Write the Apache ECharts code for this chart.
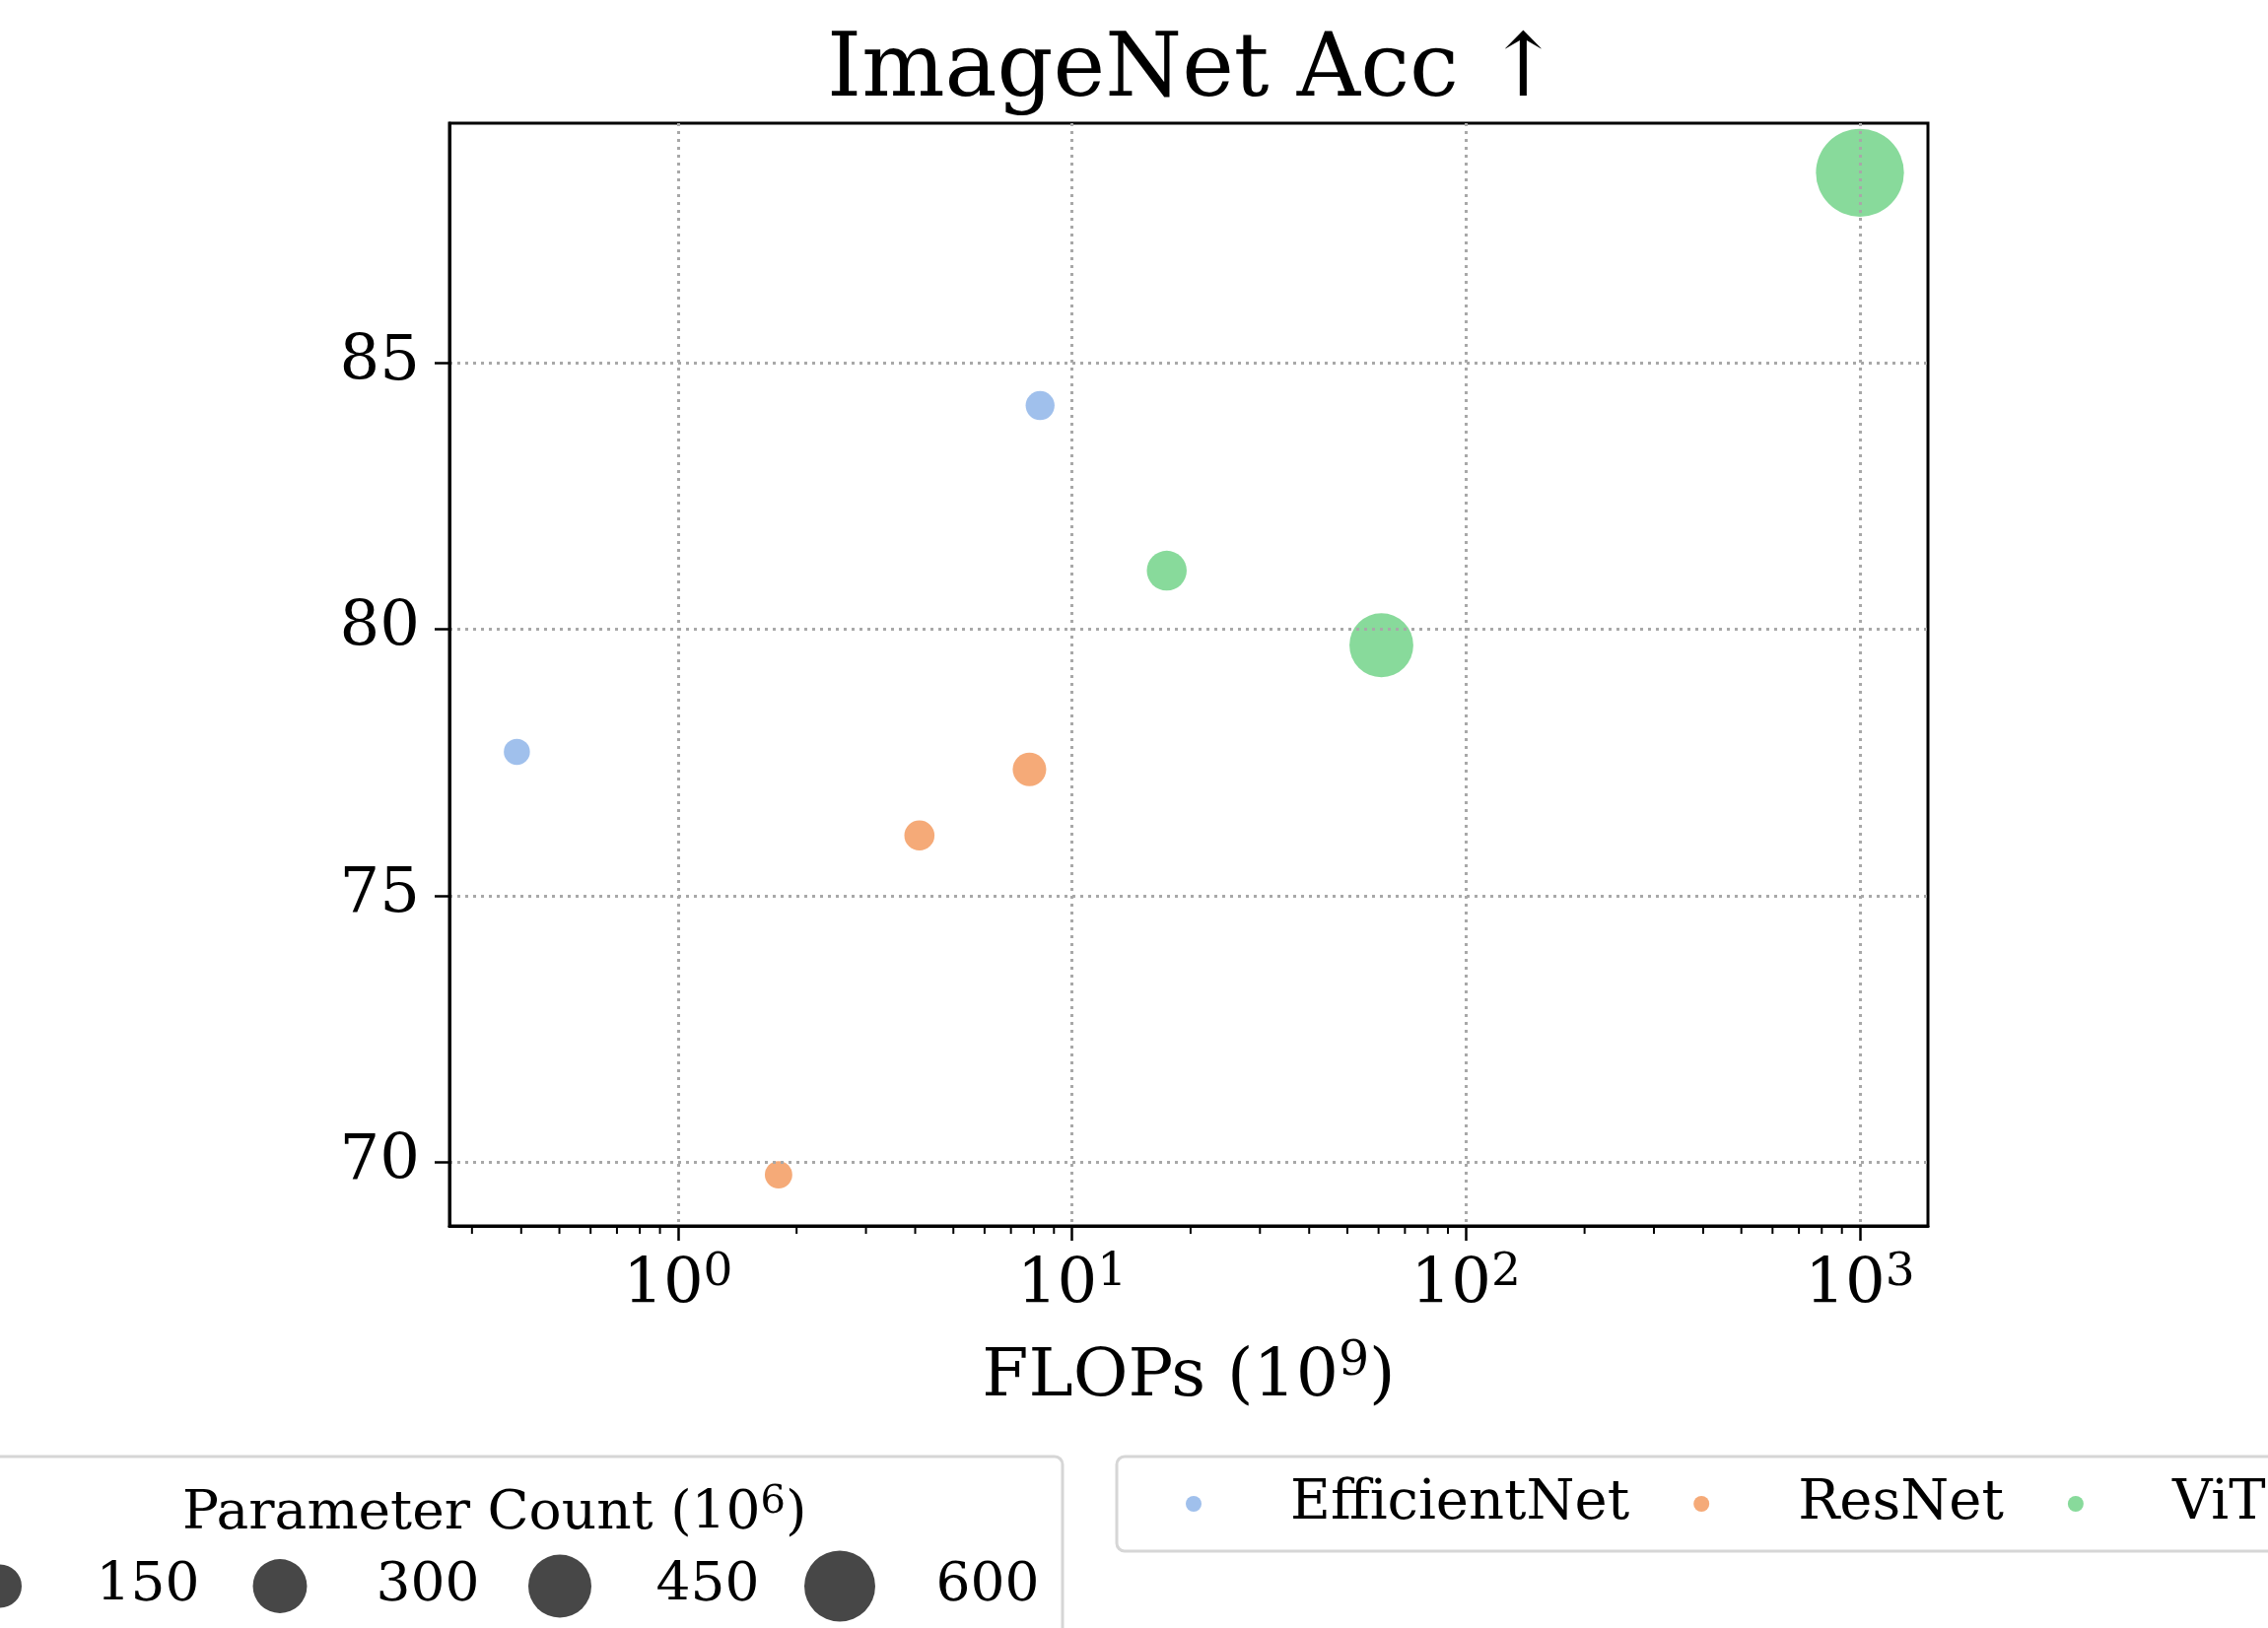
<!DOCTYPE html>
<html><head><meta charset="utf-8">
<script src="https://cdn.jsdelivr.net/npm/echarts@6/dist/echarts.min.js"></script>
<style>html,body{margin:0;padding:0;background:#fff}#c{width:2301px;height:1652px}</style>
</head><body><div id="c"></div>
<script>
// ---- data ----
const seriesNames = ['EfficientNet', 'ResNet', 'ViT'];
const efficientNetFlops = [0.39, 8.3];
const efficientNetAcc = [77.7, 84.2];
const efficientNetParams = [5.3, 19];
const resNetFlops = [1.8, 4.1, 7.8];
const resNetAcc = [69.76, 76.13, 77.37];
const resNetParams = [11.7, 25.6, 44.5];
const vitFlops = [17.4, 61.0, 1000];
const vitAcc = [81.1, 79.7, 88.57];
const vitParams = [86, 307, 632];
const xMajorTicks = [1, 10, 100, 1000];
const xMinorTicks = [0.3, 0.4, 0.5, 0.6, 0.7, 0.8, 0.9, 2, 3, 4, 5, 6, 7, 8, 9, 20, 30, 40, 50, 60, 70, 80, 90, 200, 300, 400, 500, 600, 700, 800, 900];
const yTicks = [70, 75, 80, 85];
const sizeLegendValues = [150, 300, 450, 600];
const X_MIN = 0.263, X_MAX = 1488, Y_MIN = 68.8, Y_MAX = 89.5;

// ---- styling ----
const FONT = 'DejaVu Serif';
const colors = ['#a0c0ec', '#f5aa78', '#88da9b'];
const plotDiameter = p => Math.sqrt(640 + 11.6 * p);
const legendDiameter = p => Math.sqrt(856 + 7.2 * p);

function pts(xs, ys, ps) { return xs.map((x, i) => [x, ys[i], ps[i]]); }

const chart = echarts.init(document.getElementById('c'), null, {renderer: 'canvas'});
const gridLine = {color: '#a8a8a8', width: 3, type: [3, 5]};
const supRich = {
  b: {fontFamily: FONT, fontSize: 64, fontWeight: 'normal', color: '#000', lineHeight: 64, padding: [10, 0, 0, 0]},
  s: {fontFamily: FONT, fontSize: 47, fontWeight: 'normal', color: '#000', lineHeight: 47, verticalAlign: 'top'}
};

const option = {
  animation: false,
  backgroundColor: '#fff',
  title: [
    {text: 'ImageNet Acc ↑', left: 834, top: 24,
     textStyle: {fontFamily: FONT, fontSize: 89, fontWeight: 'normal', color: '#000'}},
    {text: '{a|Parameter Count (10}{s|6}{a|)}', left: 180, top: 1500,
     textStyle: {fontWeight: 'normal', rich: {
       a: {fontFamily: FONT, fontSize: 55, fontWeight: 'normal', color: '#000', lineHeight: 55, padding: [8, 0, 0, 0]},
       s: {fontFamily: FONT, fontSize: 40, fontWeight: 'normal', color: '#000', lineHeight: 40, verticalAlign: 'top'}
     }}}
  ],
  graphic: [{
    type: 'rect', z: 0,
    shape: {x: -20, y: 1478, width: 1098, height: 260, r: 8},
    style: {fill: '#fff', stroke: '#d6d6d6', lineWidth: 3}
  }],
  legend: {
    data: seriesNames, left: 1133, top: 1478, width: 1500,
    orient: 'horizontal', icon: 'circle', itemWidth: 16, itemHeight: 16, itemGap: 65,
    padding: [20, 40, 20, 70], borderColor: '#d6d6d6', borderWidth: 3, borderRadius: 8,
    backgroundColor: '#fff', selectedMode: false,
    textStyle: {fontFamily: FONT, fontSize: 56, color: '#000', padding: [0, 0, 0, 85]}
  },
  grid: [
    {left: 456, right: 345, top: 125, bottom: 408, show: true, borderColor: '#000', borderWidth: 3, containLabel: false},
    {left: -9, width: 861, top: 1567, height: 100, show: false}
  ],
  xAxis: [{
    type: 'log', logBase: 10, min: X_MIN, max: X_MAX, gridIndex: 0, z: 3,
    axisLine: {show: true, onZero: false, lineStyle: {color: '#000', width: 3}},
    axisTick: {show: true, inside: false, length: 15, lineStyle: {color: '#000', width: 2.5}, customValues: xMajorTicks},
    axisLabel: {customValues: xMajorTicks, margin: 24,
      formatter: v => '{b|10}{s|' + Math.round(Math.log10(v)) + '}', rich: supRich},
    splitLine: {show: true, lineStyle: gridLine},
    minorTick: {show: false},
    name: '{a|FLOPs (10}{s|9}{a|)}', nameLocation: 'middle', nameGap: 114,
    nameTextStyle: {rich: {
      a: {fontFamily: FONT, fontSize: 68, fontWeight: 'normal', color: '#000', lineHeight: 68, padding: [12, 0, 0, 0]},
      s: {fontFamily: FONT, fontSize: 49, fontWeight: 'normal', color: '#000', lineHeight: 49, verticalAlign: 'top'}
    }}
  }, {
    type: 'category', gridIndex: 1, show: false, boundaryGap: false,
    data: sizeLegendValues.map(String)
  }],
  yAxis: [{
    type: 'value', min: Y_MIN, max: Y_MAX, gridIndex: 0, z: 3,
    axisLine: {show: true, onZero: false, lineStyle: {color: '#000', width: 3}},
    axisTick: {show: true, inside: false, length: 15, lineStyle: {color: '#000', width: 2.5}, customValues: yTicks},
    axisLabel: {customValues: yTicks, margin: 30, fontFamily: FONT, fontSize: 64, color: '#000'},
    splitLine: {show: true, lineStyle: gridLine}
  }, {
    type: 'value', gridIndex: 1, show: false, min: -1, max: 1
  }],
  series: [
    {name: 'EfficientNet', type: 'scatter', data: pts(efficientNetFlops, efficientNetAcc, efficientNetParams),
     symbolSize: d => plotDiameter(d[2]), itemStyle: {color: colors[0], opacity: 1}, z: 2},
    {name: 'ResNet', type: 'scatter', data: pts(resNetFlops, resNetAcc, resNetParams),
     symbolSize: d => plotDiameter(d[2]), itemStyle: {color: colors[1], opacity: 1}, z: 2},
    {name: 'ViT', type: 'scatter', data: pts(vitFlops, vitAcc, vitParams),
     symbolSize: d => plotDiameter(d[2]), itemStyle: {color: colors[2], opacity: 1}, z: 2},
    {name: 'minorTicks', type: 'custom', silent: true, clip: false, z: 5,
     data: xMinorTicks.map(v => [v, Y_MIN]),
     renderItem: (params, api) => {
       const p = api.coord([api.value(0), api.value(1)]);
       return {type: 'line', shape: {x1: p[0], y1: p[1], x2: p[0], y2: p[1] + 8},
               style: {stroke: '#000', lineWidth: 2}};
     }},
    {name: 'sizeLegend', type: 'scatter', xAxisIndex: 1, yAxisIndex: 1, clip: false, silent: true, z: 3,
     data: sizeLegendValues.map(v => [String(v), 0, v]),
     symbolSize: d => legendDiameter(d[2]),
     itemStyle: {color: '#474747', opacity: 1},
     label: {show: true, position: 'inside', offset: [150, 0], formatter: p => String(p.value[2]),
             fontFamily: FONT, fontSize: 55, color: '#000'}}
  ]
};
chart.setOption(option);
</script></body></html>
